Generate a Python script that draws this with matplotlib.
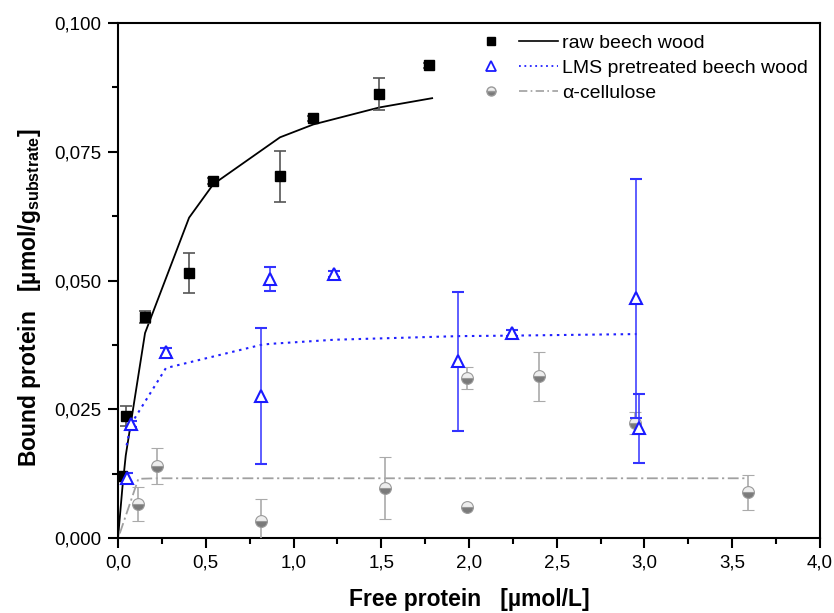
import numpy as np
import matplotlib.pyplot as plt
from matplotlib.legend_handler import HandlerTuple
from matplotlib.lines import Line2D

plt.rcParams['font.family'] = ['Liberation Sans', 'DejaVu Sans']
plt.rcParams['mathtext.fontset'] = 'custom'
plt.rcParams['mathtext.rm'] = 'Liberation Sans'
plt.rcParams['mathtext.bf'] = 'Liberation Sans:bold'

# raw beech wood (black squares)
raw_x = [0.025, 0.044, 0.154, 0.405, 0.543, 0.923, 1.113, 1.489, 1.772]
raw_y = [0.0121, 0.0237, 0.0429, 0.0515, 0.0693, 0.0702, 0.0815, 0.0863, 0.0918]
raw_err = [0.0008, 0.0020, 0.0011, 0.0039, 0.0006, 0.0049, 0.0005, 0.0031, 0.0005]
raw_fit_x = [0.0, 0.025, 0.044, 0.154, 0.405, 0.543, 0.923, 1.113, 1.489, 1.79]
raw_fit_y = [0.0, 0.0098, 0.0160, 0.0398, 0.0622, 0.0687, 0.0778, 0.0803, 0.0836, 0.0854]

# LMS pretreated beech wood (open blue triangles)
lms_x = [0.049, 0.074, 0.273, 0.815, 0.866, 1.233, 1.939, 2.243, 2.950, 2.969]
lms_y = [0.0116, 0.0222, 0.0361, 0.0276, 0.0503, 0.0512, 0.0343, 0.0398, 0.0466, 0.0213]
lms_err = [0.0010, 0.0006, 0.0008, 0.0132, 0.0024, 0.0006, 0.0135, 0.0005, 0.0232, 0.0067]
lms_fit_x = [0.049, 0.074, 0.273, 0.815, 0.866, 1.233, 1.939, 2.243, 2.955]
lms_fit_y = [0.0180, 0.0221, 0.0330, 0.0375, 0.0377, 0.0385, 0.0392, 0.0393, 0.0396]

# alpha-cellulose (grey half-filled circles)
cel_x = [0.116, 0.224, 0.815, 1.521, 1.990, 1.990, 2.399, 2.946, 3.588]
cel_y = [0.0067, 0.0140, 0.0033, 0.0097, 0.0311, 0.0060, 0.0314, 0.0223, 0.0089]
cel_err = [0.0033, 0.0035, 0.0042, 0.0061, 0.0022, 0.0, 0.0047, 0.0021, 0.0034]
cel_fit_x = [0.01, 0.116, 0.224, 0.815, 1.521, 1.990, 2.399, 2.946, 3.588]
cel_fit_y = [0.0009, 0.0115, 0.0116, 0.0116, 0.0116, 0.0116, 0.0116, 0.0116, 0.0116]

x_ticks = [0.0, 0.5, 1.0, 1.5, 2.0, 2.5, 3.0, 3.5, 4.0]
x_labels = ['0,0', '0,5', '1,0', '1,5', '2,0', '2,5', '3,0', '3,5', '4,0']
y_ticks = [0.0, 0.025, 0.05, 0.075, 0.1]
y_labels = ['0,000', '0,025', '0,050', '0,075', '0,100']

fig = plt.figure(figsize=(8.34, 6.13), dpi=100)
ax = fig.add_axes([0.1415, 0.1223, 0.8417, 0.8402])

# fitted curves
ax.plot(raw_fit_x, raw_fit_y, color='black', lw=1.3, zorder=2)
ax.plot(lms_fit_x, lms_fit_y, color='#2020ff', lw=1.5, ls=(0, (1.2, 2.2)), zorder=2)
ax.plot(cel_fit_x, cel_fit_y, color='#a0a0a0', lw=1.3, ls=(0, (6, 2, 1.2, 2)), zorder=2)

# measured points
ax.errorbar(raw_x, raw_y, yerr=raw_err, fmt='s', color='black', ms=7,
            ecolor='#555555', elinewidth=1.2, capsize=4, capthick=1.2, zorder=4)
ax.errorbar(lms_x, lms_y, yerr=lms_err, fmt='^', color='#1a1aff', ms=9, mfc='white',
            mec='#1a1aff', mew=1.5, ecolor='#3333ff', elinewidth=1.1, capsize=4,
            capthick=1.1, zorder=4)
ax.errorbar(cel_x, cel_y, yerr=cel_err, fmt='o', ms=8.5, fillstyle='bottom',
            mfc='#7a7a7a', markerfacecoloralt='#eeeeee', mec='#9a9a9a', mew=0.8,
            ecolor='#aaaaaa', elinewidth=1.2, capsize=4, capthick=1.2, zorder=3)

ax.set_xlim(0, 4.0)
ax.set_ylim(0, 0.1)
ax.set_xticks(x_ticks)
ax.set_xticklabels(x_labels)
ax.set_yticks(y_ticks)
ax.set_yticklabels(y_labels)
ax.set_xticks(np.arange(0.25, 4.0, 0.5), minor=True)
ax.set_yticks(np.arange(0.0125, 0.1, 0.025), minor=True)
ax.tick_params(which='major', direction='out', length=7, width=1.5, labelsize=13.5, pad=5)
ax.tick_params(which='minor', direction='out', length=4, width=1.5)
for sp in ax.spines.values():
    sp.set_linewidth(1.5)

ax.set_xlabel('Free protein   [µmol/L]', fontsize=16.5, fontweight='bold', labelpad=12)
ax.set_ylabel(r'Bound protein   [µmol/g$_{\mathbf{substrate}}$]', fontsize=16.5,
              fontweight='bold', labelpad=8)
ax.yaxis.label.set_y(0.466)

h_raw = (Line2D([], [], marker='s', ls='none', color='black', ms=6),
         Line2D([], [], color='black', lw=1.2))
h_lms = (Line2D([], [], marker='^', ls='none', color='#1a1aff', mfc='white', ms=7, mew=1.3),
         Line2D([], [], color='#2020ff', lw=1.3, ls=(0, (1, 2))))
h_cel = (Line2D([], [], marker='o', ls='none', ms=6.5, fillstyle='bottom', mfc='#7a7a7a',
                markerfacecoloralt='#eeeeee', mec='#9a9a9a'),
         Line2D([], [], color='#a0a0a0', lw=1.2, ls=(0, (5, 2, 1, 2))))
ax.legend([h_raw, h_lms, h_cel],
          ['raw beech wood', 'LMS pretreated beech wood', 'α-cellulose'],
          handler_map={tuple: HandlerTuple(ndivide=None, pad=0.4)},
          handlelength=4.4, frameon=False, loc='upper right', fontsize=14,
          borderaxespad=0.2, labelspacing=0.38, handletextpad=0.25)

fig.savefig('out.png', dpi=100)
